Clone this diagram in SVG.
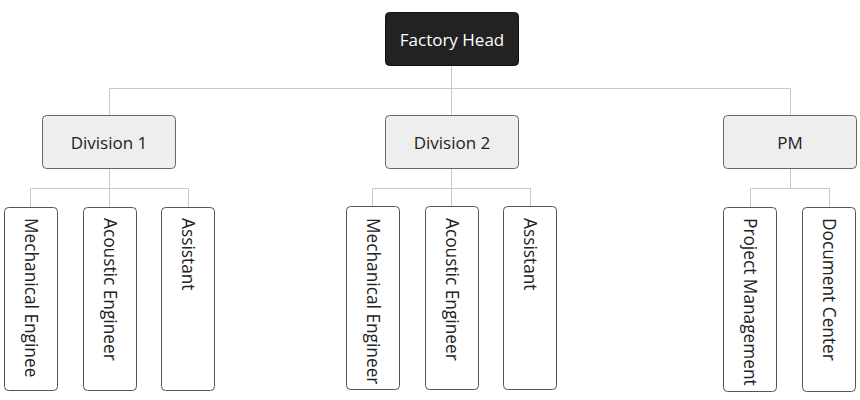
<svg xmlns="http://www.w3.org/2000/svg" width="860" height="400" viewBox="0 0 860 400">
<style>
text{font-family:"Open Sans","Noto Sans","Liberation Sans",sans-serif;font-size:17px;fill:#222}
.leaf text{font-size:17.3px}
.root rect{fill:#222;stroke:#111;stroke-width:1}
.root text{fill:#fff}
.mid rect{fill:#eeeeee;stroke:#666;stroke-width:1}
.leaf rect{fill:#fff;stroke:#555;stroke-width:1}
.conn{fill:none;stroke:#c8c8c8;stroke-width:1}
</style>
<rect width="860" height="400" fill="#fff"/>
<g id="connectors" class="conn">
<path d="M451.5 66V88.5M109.5 115V88.5H790.5V115M451.5 88.5V115"/>
<path d="M109.5 168V188.5M30.5 207V188.5H188.5V207M109.5 188.5V207"/>
<path d="M451.5 168V188.5M372.5 206V188.5H530.5V206M451.5 188.5V206"/>
<path d="M790.5 168V188.5M750.5 207V188.5H829.5V207"/>
</g>
<g id="factory-head" class="root"><rect x="385.5" y="12.5" width="133" height="53" rx="4"/><text x="452" y="39" text-anchor="middle" dominant-baseline="central">Factory Head</text></g>
<g id="division-1" class="mid"><rect x="42.5" y="115.5" width="133" height="53" rx="4"/><text x="109" y="142" text-anchor="middle" dominant-baseline="central">Division 1</text></g>
<g id="division-2" class="mid"><rect x="385.5" y="115.5" width="133" height="53" rx="4"/><text x="452" y="142" text-anchor="middle" dominant-baseline="central">Division 2</text></g>
<g id="pm" class="mid"><rect x="723.5" y="115.5" width="133" height="53" rx="4"/><text x="790" y="142" text-anchor="middle" dominant-baseline="central">PM</text></g>
<g id="d1-mech" class="leaf"><rect x="4.5" y="207.5" width="53" height="183" rx="4"/><text transform="translate(31,218) rotate(90)" dominant-baseline="central">Mechanical Enginee</text></g>
<g id="d1-acoustic" class="leaf"><rect x="83.5" y="207.5" width="53" height="183" rx="4"/><text transform="translate(110,218) rotate(90)" dominant-baseline="central">Acoustic Engineer</text></g>
<g id="d1-assistant" class="leaf"><rect x="161.5" y="207.5" width="53" height="183" rx="4"/><text transform="translate(188,218) rotate(90)" dominant-baseline="central">Assistant</text></g>
<g id="d2-mech" class="leaf"><rect x="346.5" y="206.5" width="53" height="183" rx="4"/><text transform="translate(373,218) rotate(90)" dominant-baseline="central">Mechanical Engineer</text></g>
<g id="d2-acoustic" class="leaf"><rect x="425.5" y="206.5" width="53" height="183" rx="4"/><text transform="translate(452,218) rotate(90)" dominant-baseline="central">Acoustic Engineer</text></g>
<g id="d2-assistant" class="leaf"><rect x="503.5" y="206.5" width="53" height="183" rx="4"/><text transform="translate(530,218) rotate(90)" dominant-baseline="central">Assistant</text></g>
<g id="pm-project" class="leaf"><rect x="723.5" y="207.5" width="53" height="184" rx="4"/><text transform="translate(750,218) rotate(90)" dominant-baseline="central">Project Management</text></g>
<g id="pm-document" class="leaf"><rect x="802.5" y="207.5" width="53" height="184" rx="4"/><text transform="translate(829,218) rotate(90)" dominant-baseline="central">Document Center</text></g>
</svg>
